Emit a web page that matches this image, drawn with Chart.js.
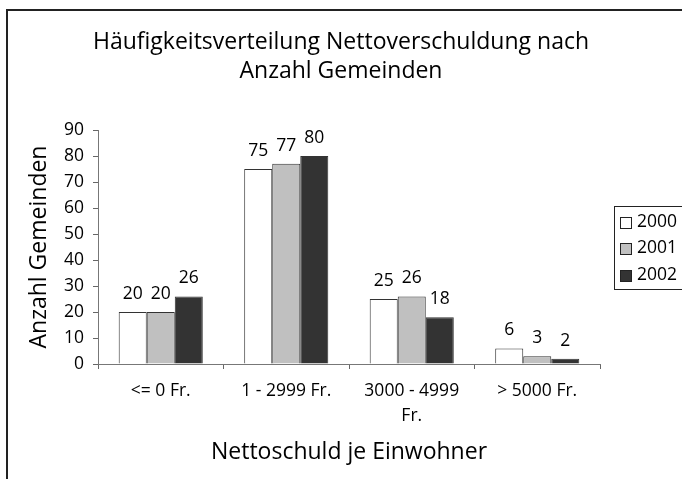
<!DOCTYPE html>
<html>
<head>
<meta charset="utf-8">
<script src="https://cdn.jsdelivr.net/npm/chart.js@4/dist/chart.umd.min.js"></script>
<style>
  html, body { margin: 0; padding: 0; background: #fff; overflow: hidden; }
  #wrap { position: relative; width: 682px; height: 479px; }
  #frame { position: absolute; left: 6px; top: 9px; width: 700px; height: 500px;
           border-top: 2px solid #222; border-left: 2px solid #222; }
  canvas { position: absolute; left: 0; top: 0; }
</style>
</head>
<body>
<div id="wrap">
  <div id="frame"></div>
  <canvas id="chart" width="682" height="479"></canvas>
</div>
<script>
// data
const categories = ["<= 0 Fr.", "1 - 2999 Fr.", ["3000 - 4999", "Fr."], "> 5000 Fr."]
const years = ["2000", "2001", "2002"]
const values2000 = [20, 75, 25, 6]
const values2001 = [20, 77, 26, 3]
const values2002 = [26, 80, 18, 2]
const yMin = 0, yMax = 90, yStep = 10

const titleLines = ["Häufigkeitsverteilung Nettoverschuldung nach", "Anzahl Gemeinden"]
const xTitle = "Nettoschuld je Einwohner"
const yTitle = "Anzahl Gemeinden"

const FONT = "'Open Sans', 'Noto Sans', sans-serif"
const fills = ["#ffffff", "#c0c0c0", "#333333"]

// value labels above each bar (excel style)
const valueLabels = {
  id: "valueLabels",
  afterDatasetsDraw(chart) {
    const ctx = chart.ctx
    ctx.save()
    ctx.font = "17.5px " + FONT
    ctx.fillStyle = "#000"
    ctx.textAlign = "center"
    ctx.textBaseline = "alphabetic"
    chart.data.datasets.forEach((ds, i) => {
      chart.getDatasetMeta(i).data.forEach((bar, j) => {
        ctx.fillText(String(ds.data[j]), bar.x, bar.y - 13)
      })
    })
    ctx.restore()
  }
}

// boxed legend on the right, like the original
const boxLegend = {
  id: "boxLegend",
  afterDraw(chart) {
    const ctx = chart.ctx
    const a = chart.chartArea
    const left = a.right + 14
    const mid = (a.top + a.bottom) / 2
    const h = 83
    const top = Math.round(mid - h / 2)
    ctx.save()
    ctx.strokeStyle = "#222"
    ctx.lineWidth = 1
    ctx.strokeRect(left + 0.5, top + 0.5, 200, h)
    ctx.font = "17.5px " + FONT
    ctx.textBaseline = "middle"
    ctx.textAlign = "left"
    chart.data.datasets.forEach((ds, i) => {
      const cy = top + 16 + i * 26.5
      const by = Math.round(cy - 5.5) + 0.5
      ctx.fillStyle = ds.backgroundColor
      ctx.fillRect(left + 6.5, by, 11, 11)
      ctx.strokeStyle = "#222"
      ctx.strokeRect(left + 6.5, by, 11, 11)
      ctx.fillStyle = "#000"
      ctx.fillText(ds.label, left + 23, cy)
    })
    ctx.restore()
  }
}

const seriesValues = [values2000, values2001, values2002]

new Chart(document.getElementById("chart"), {
  type: "bar",
  data: {
    labels: categories,
    datasets: years.map((y, i) => ({
      label: y,
      data: seriesValues[i],
      backgroundColor: fills[i],
      borderColor: "#333",
      borderWidth: 1,
      categoryPercentage: 0.67,
      barPercentage: 1
    }))
  },
  options: {
    responsive: false,
    animation: false,
    devicePixelRatio: 1,
    layout: { padding: 0 },
    plugins: {
      legend: { display: false },
      tooltip: { enabled: false },
      title: {
        display: true,
        text: titleLines,
        color: "#000",
        font: { family: FONT, size: 23, weight: "normal", lineHeight: 29 / 23 },
        padding: { top: 28, bottom: 44 }
      }
    },
    scales: {
      x: {
        afterFit: (scale) => { scale.height = 115 },
        grid: { offset: true, drawOnChartArea: false, drawTicks: true, tickLength: 5, color: "#666" },
        border: { color: "#777", width: 1 },
        ticks: {
          color: "#000",
          padding: 10,
          maxRotation: 0,
          font: { family: FONT, size: 17.5, lineHeight: 25 / 17.5 }
        },
        title: {
          display: true,
          text: xTitle,
          color: "#000",
          font: { family: FONT, size: 23, lineHeight: 1.2 },
          padding: { top: 0, bottom: 13 }
        }
      },
      y: {
        min: yMin,
        max: yMax,
        afterFit: (scale) => { scale.width = 98 },
        grid: { drawOnChartArea: false, drawTicks: true, tickLength: 5, color: "#666" },
        border: { color: "#777", width: 1 },
        ticks: {
          stepSize: yStep,
          color: "#000",
          padding: 9,
          font: { family: FONT, size: 17.5 }
        },
        title: {
          display: true,
          text: yTitle,
          color: "#000",
          font: { family: FONT, size: 23, lineHeight: 1.2 },
          padding: { top: 26, bottom: 0 }
        }
      },
      // empty axis that only reserves room for the boxed legend
      legendSpace: {
        position: "right",
        display: true,
        afterFit: (scale) => { scale.width = 82 },
        grid: { display: false },
        border: { display: false },
        ticks: { display: false }
      }
    }
  },
  plugins: [valueLabels, boxLegend]
})
</script>
</body>
</html>
